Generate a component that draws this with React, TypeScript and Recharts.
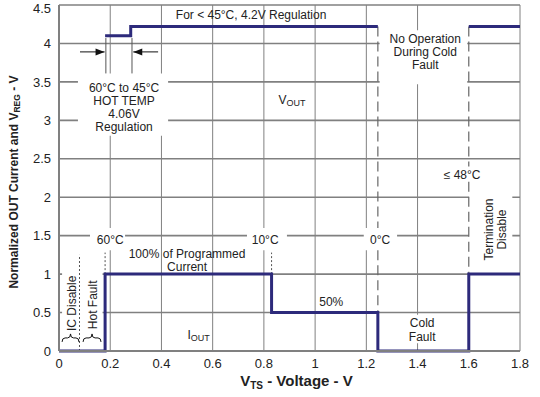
import {
  LineChart,
  Line,
  XAxis,
  YAxis,
  CartesianGrid,
  ReferenceLine,
  ReferenceArea,
  ReferenceDot,
} from 'recharts';

const xTicks = [0, 0.2, 0.4, 0.6, 0.8, 1, 1.2, 1.4, 1.6, 1.8];
const yTicks = [0, 0.5, 1, 1.5, 2, 2.5, 3, 3.5, 4, 4.5];
const xDomain = [0, 1.8];

// step points, drawn with stepAfter
const ioutVolts = [0, 0.18, 0.83, 1.245, 1.6, 1.8];
const ioutLevel = [0, 1, 0.5, 0, 1, 1];
const vregVolts = [0.18, 0.28, 1.245];
const vregLevel = [4.1, 4.22, 4.22];
const vregTailVolts = [1.6, 1.8];
const vregTailLevel = [4.22, 4.22];

const rows = (xs: number[], ys: number[]) => xs.map((v, i) => ({ v, y: ys[i] }));

const NAVY = '#2d2a7b';
const GRID = '#808080';
const INK = '#222';
const FONT = '"Liberation Sans", Arial, sans-serif';

const Note = ({ viewBox, lines, size = 12, lh = 13, rotate = false }: any) => {
  const cx = viewBox.x + viewBox.width / 2;
  const cy = viewBox.y + viewBox.height / 2;
  const y0 = -((lines.length - 1) * lh) / 2;
  return (
    <text
      x={cx}
      y={cy}
      transform={rotate ? `rotate(-90 ${cx} ${cy})` : undefined}
      textAnchor="middle"
      dominantBaseline="central"
      fontSize={size}
      fontFamily={FONT}
      fill={INK}
    >
      {lines.map((l: any, i: number) => (
        <tspan key={i} x={cx} y={cy + y0 + i * lh}>
          {l}
        </tspan>
      ))}
    </text>
  );
};

const Sub = ({ viewBox, main, sub }: any) => {
  const cx = viewBox.x + viewBox.width / 2;
  const cy = viewBox.y + viewBox.height / 2;
  return (
    <text x={cx} y={cy} textAnchor="middle" dominantBaseline="central" fontSize={12} fontFamily={FONT} fill={INK}>
      {main}
      <tspan fontSize={9} dy={3}>{sub}</tspan>
    </text>
  );
};

const arrow = (p: any) => {
  const { x1, y1, x2, y2 } = p;
  const d = Math.sign(x2 - x1);
  return (
    <g>
      <line x1={x1} y1={y1} x2={x2} y2={y2} stroke="#111" strokeWidth={1} />
      <polygon points={`${x2},${y2} ${x2 - d * 9},${y2 - 3.5} ${x2 - d * 9},${y2 + 3.5}`} fill="#111" />
    </g>
  );
};

const brace = (p: any) => {
  const { x1, x2, y1: y } = p;
  const m = (x1 + x2) / 2;
  return (
    <path
      d={`M${x1},${y + 4} Q${x1},${y} ${x1 + 3},${y} L${m - 3},${y} Q${m},${y} ${m},${y - 4} Q${m},${y} ${m + 3},${y} L${x2 - 3},${y} Q${x2},${y} ${x2},${y + 4}`}
      fill="none"
      stroke="#111"
      strokeWidth={1}
    />
  );
};

const YLabel = ({ viewBox }: any) => {
  const cx = 14;
  const cy = viewBox.y + viewBox.height / 2 + 4;
  return (
    <text
      x={cx}
      y={cy}
      transform={`rotate(-90 ${cx} ${cy})`}
      textAnchor="middle"
      dominantBaseline="central"
      fontWeight="bold"
      fontSize={12}
      fontFamily={FONT}
      fill={INK}
    >
      Normalized OUT Current and V<tspan fontSize={8.5} dy={3}>REG</tspan>
      <tspan dy={-3}> - V</tspan>
    </text>
  );
};

const XLabel = ({ viewBox }: any) => {
  const cx = viewBox.x + viewBox.width / 2 + 7;
  return (
    <text x={cx} y={386} textAnchor="middle" fontWeight="bold" fontSize={15} fontFamily={FONT} fill={INK}>
      V<tspan fontSize={10} dy={3}>TS</tspan>
      <tspan dy={-3}> - Voltage  - V</tspan>
    </text>
  );
};

// vertical grid at every tick except 1.6, where the dashed boundary sits
const verticalGrid = ({ xAxis, offset }: any) => {
  const s = xAxis && typeof xAxis.scale === 'function' ? xAxis.scale : null;
  const toPx = (t: number) =>
    s ? s(t) : offset.left + ((t - xDomain[0]) / (xDomain[1] - xDomain[0])) * offset.width;
  return xTicks.filter((t) => t !== 1.6).map(toPx);
};

const white = { fill: '#fff', fillOpacity: 1, stroke: 'none', ifOverflow: 'visible' as const };
const dot = { r: 0, fill: 'none', stroke: 'none', ifOverflow: 'visible' as const };
const dash = { stroke: '#666', strokeWidth: 1.2, strokeDasharray: '10 5' };

export default function App() {
  return (
    <div style={{ position: 'absolute', left: 0, top: 0 }}>
      <LineChart width={540} height={397} margin={{ top: 5, right: 20, bottom: 0, left: 0 }}>
        <CartesianGrid vertical={false} stroke={GRID} strokeWidth={1.6} />
        <CartesianGrid horizontal={false} verticalCoordinatesGenerator={verticalGrid} stroke={GRID} strokeWidth={1} />
        <XAxis
          dataKey="v"
          type="number"
          domain={xDomain}
          ticks={xTicks}
          height={46}
          tickLine={false}
          axisLine={{ stroke: GRID, strokeWidth: 2 }}
          tick={{ fill: INK, fontSize: 13, fontFamily: FONT }}
          label={<XLabel />}
        />
        <YAxis
          type="number"
          domain={[0, 4.5]}
          ticks={yTicks}
          width={59}
          tickLine={false}
          axisLine={{ stroke: GRID, strokeWidth: 2 }}
          tick={{ fill: INK, fontSize: 13, fontFamily: FONT }}
          label={<YLabel />}
        />

        {/* white boxes behind the notes */}
        <ReferenceArea x1={0.074} x2={0.426} y1={2.8} y2={3.61} {...white} />
        <ReferenceArea x1={1.252} x2={1.594} y1={3.47} y2={4.17} {...white} />
        <ReferenceArea x1={1.6} x2={1.77} y1={1.15} y2={2.15} {...white} />
        <ReferenceArea x1={0.121} x2={0.258} y1={1.31} y2={1.6} {...white} />
        <ReferenceArea x1={0.734} x2={0.89} y1={1.31} y2={1.6} {...white} />
        <ReferenceArea x1={1.19} x2={1.32} y1={1.31} y2={1.6} {...white} />
        <ReferenceArea x1={1.33} x2={1.5} y1={0.1} y2={0.47} {...white} />
        <ReferenceArea x1={0.012} x2={0.17} y1={0.22} y2={1.08} {...white} />

        {/* long dashed boundaries, broken around their labels */}
        <ReferenceLine segment={[{ x: 1.245, y: 4.22 }, { x: 1.245, y: 1.6 }]} {...dash} />
        <ReferenceLine segment={[{ x: 1.245, y: 1.31 }, { x: 1.245, y: 0 }]} {...dash} />
        <ReferenceLine segment={[{ x: 1.6, y: 4.22 }, { x: 1.6, y: 2.4 }]} {...dash} />
        <ReferenceLine segment={[{ x: 1.6, y: 2.2 }, { x: 1.6, y: 1 }]} {...dash} />

        {/* dotted markers */}
        <ReferenceLine segment={[{ x: 0.08, y: 0 }, { x: 0.08, y: 1.25 }]} stroke="#555" strokeDasharray="2 2" />
        <ReferenceLine segment={[{ x: 0.18, y: 1 }, { x: 0.18, y: 1.28 }]} stroke="#555" strokeDasharray="2 2" />
        <ReferenceLine segment={[{ x: 0.83, y: 1 }, { x: 0.83, y: 1.28 }]} stroke="#555" strokeDasharray="2 2" />

        {/* hot temp window */}
        <ReferenceLine segment={[{ x: 0.183, y: 4.07 }, { x: 0.183, y: 3.61 }]} stroke="#555" strokeWidth={1} />
        <ReferenceLine segment={[{ x: 0.285, y: 4.07 }, { x: 0.285, y: 3.61 }]} stroke="#555" strokeWidth={1} />
        <ReferenceLine segment={[{ x: 0.082, y: 3.89 }, { x: 0.178, y: 3.89 }]} shape={arrow} />
        <ReferenceLine segment={[{ x: 0.387, y: 3.89 }, { x: 0.29, y: 3.89 }]} shape={arrow} />

        <ReferenceLine segment={[{ x: 0.012, y: 0.17 }, { x: 0.078, y: 0.17 }]} shape={brace} />
        <ReferenceLine segment={[{ x: 0.094, y: 0.17 }, { x: 0.164, y: 0.17 }]} shape={brace} />

        <Line data={rows(ioutVolts, ioutLevel)} dataKey="y" type="stepAfter" stroke={NAVY} strokeWidth={3} dot={false} isAnimationActive={false} />
        <Line data={rows(vregVolts, vregLevel)} dataKey="y" type="stepAfter" stroke={NAVY} strokeWidth={3} dot={false} isAnimationActive={false} />
        <Line data={rows(vregTailVolts, vregTailLevel)} dataKey="y" type="stepAfter" stroke={NAVY} strokeWidth={3} dot={false} isAnimationActive={false} />

        <ReferenceDot x={0.75} y={4.37} {...dot} label={<Note lines={['For < 45°C, 4.2V Regulation']} />} />
        <ReferenceDot x={1.43} y={3.89} {...dot} label={<Note lines={['No Operation', 'During Cold', 'Fault']} />} />
        <ReferenceDot x={0.254} y={3.17} {...dot} label={<Note lines={['60°C to 45°C', 'HOT TEMP', '4.06V', 'Regulation']} />} />
        <ReferenceDot x={0.91} y={3.26} {...dot} label={<Sub main="V" sub="OUT" />} />
        <ReferenceDot x={1.574} y={2.29} {...dot} label={<Note lines={['≤ 48°C']} />} />
        <ReferenceDot x={1.705} y={1.58} {...dot} label={<Note lines={['Termination', 'Disable']} lh={13} rotate />} />
        <ReferenceDot x={0.2} y={1.44} {...dot} label={<Note lines={['60°C']} />} />
        <ReferenceDot x={0.805} y={1.44} {...dot} label={<Note lines={['10°C']} />} />
        <ReferenceDot x={1.254} y={1.44} {...dot} label={<Note lines={['0°C']} />} />
        <ReferenceDot x={0.5} y={1.18} {...dot} label={<Note lines={['100% of Programmed', 'Current']} />} />
        <ReferenceDot x={1.063} y={0.64} {...dot} label={<Note lines={['50%']} />} />
        <ReferenceDot x={0.545} y={0.21} {...dot} label={<Sub main="I" sub="OUT" />} />
        <ReferenceDot x={1.418} y={0.27} {...dot} label={<Note lines={['Cold', 'Fault']} lh={14} />} />
        <ReferenceDot x={0.05} y={0.62} {...dot} label={<Note lines={['IC Disable']} rotate />} />
        <ReferenceDot x={0.133} y={0.6} {...dot} label={<Note lines={['Hot Fault']} rotate />} />
      </LineChart>
    </div>
  );
}
